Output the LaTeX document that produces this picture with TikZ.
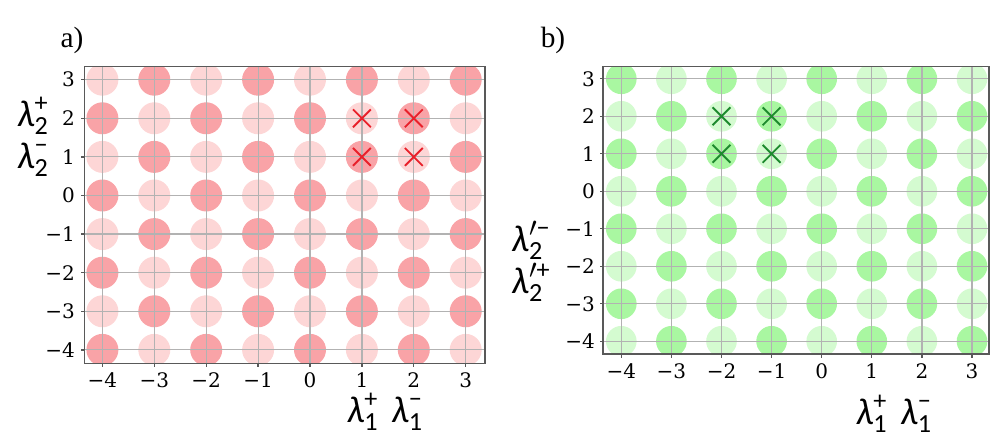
\documentclass[tikz,border=0pt]{standalone}
\usepackage{fontspec}
\usepackage{amsmath}
\setmainfont{Liberation Serif}
\newfontfamily\tickfont{DejaVu Serif}
\newfontfamily\lamfont{Carlito}
\usetikzlibrary{shapes.misc}

\definecolor{redhi}{HTML}{F9A3A7}
\definecolor{redlo}{HTML}{FDD6D6}
\definecolor{greenhi}{HTML}{A9F7A1}
\definecolor{greenlo}{HTML}{D4FBD0}
\definecolor{crossred}{HTML}{E8202A}
\definecolor{crossgreen}{HTML}{1E8A2E}

\newcommand{\tickval}[1]{\ifnum#1<0 −\number\numexpr-#1\relax\else#1\fi}
\newcommand{\lamsym}[3]{$\text{\lamfont\itshape λ}#1^{\text{\lamfont #2}}_{\text{\lamfont #3}}$}

\begin{document}
\begin{tikzpicture}[x=0.75pt,y=0.75pt,
  frame/.style={draw=black!65,line width=1pt},
  gridline/.style={draw=black!30,line width=0.9pt},
  tick/.style={font=\tickfont\fontsize{15}{18}\selectfont,inner sep=0pt},
  axlabel/.style={font=\fontsize{28}{31.5}\selectfont,inner sep=0pt,align=center},
  panel/.style={font=\fontsize{22}{24}\selectfont,inner sep=0pt},
  dotA0/.style={fill=redhi}, dotA1/.style={fill=redlo},
  dotB0/.style={fill=greenlo}, dotB1/.style={fill=greenhi},
  crossA/.style={cross out,draw=crossred,line width=1.4pt,minimum size=12pt,inner sep=0pt},
  crossB/.style={cross out,draw=crossgreen,line width=1.4pt,minimum size=12pt,inner sep=0pt}]
\useasboundingbox (0,0) rectangle (997,442);

% a) red lattice
\begin{scope}[shift={(310,246.5)},x=38.925pt,y=28.95pt]
\begin{scope}
\clip (-4.35,-4.36) rectangle (3.37,3.34);
\foreach \i in {-4,...,3}
  \foreach \j in {-4,...,3} {
    \pgfmathtruncatemacro\p{mod(\i+\j+10,2)}
    \fill[dotA\p] (\i,\j) circle[radius=12pt];
  }
\foreach \k in {-4,...,3} {
  \draw[gridline] (\k,-4.36) -- (\k,3.34);
  \draw[gridline] (-4.35,\k) -- (3.37,\k);
}
\end{scope}
\draw[frame] (-4.35,-4.36) rectangle (3.37,3.34);
\foreach \k [count=\n] in {-4,...,3} {
  \draw[frame] (\k,-4.36) -- ++(0,-2.6pt);
  \node[tick,anchor=base] (xa\n) at ([yshift=-18pt]\k,-4.36) {\tickval{\k}};
  \draw[frame] (-4.35,\k) -- ++(-2.6pt,0);
  \node[tick,anchor=east] (ya\n) at ([xshift=-6.75pt]-4.35,\k) {\tickval{\k}};
}
\node[crossA] (ca1) at (1,2) {};
\node[crossA] (ca2) at (2,2) {};
\node[crossA] (ca3) at (1,1) {};
\node[crossA] (ca4) at (2,1) {};
\end{scope}

% b) green lattice
\begin{scope}[shift={(821.7,250.7)},x=37.575pt,y=28.125pt]
\begin{scope}
\clip (-4.365,-4.34) rectangle (3.34,3.32);
\foreach \i in {-4,...,3}
  \foreach \j in {-4,...,3} {
    \pgfmathtruncatemacro\p{mod(\i+\j+10,2)}
    \fill[dotB\p] (\i,\j) circle[radius=11.5pt];
  }
\foreach \k in {-4,...,3} {
  \draw[gridline] (\k,-4.34) -- (\k,3.32);
  \draw[gridline] (-4.365,\k) -- (3.34,\k);
}
\end{scope}
\draw[frame] (-4.365,-4.34) rectangle (3.34,3.32);
\foreach \k [count=\n] in {-4,...,3} {
  \draw[frame] (\k,-4.34) -- ++(0,-2.6pt);
  \node[tick,anchor=base] (xb\n) at ([yshift=-18pt]\k,-4.34) {\tickval{\k}};
  \draw[frame] (-4.365,\k) -- ++(-2.6pt,0);
  \node[tick,anchor=east] (yb\n) at ([xshift=-6pt]-4.365,\k) {\tickval{\k}};
}
\node[crossB] (cb1) at (-2,2) {};
\node[crossB] (cb2) at (-1,2) {};
\node[crossB] (cb3) at (-2,1) {};
\node[crossB] (cb4) at (-1,1) {};
\end{scope}

% labels
\node[panel] (pa) at (72,402) {a)};
\node[panel] (pb) at (553,402) {b)};
\node[axlabel] (la2) at (33,305) {\lamsym{}{+}{2}\\\lamsym{}{−}{2}};
\node[axlabel] (la1) at (385,30) {\lamsym{}{+}{1}\hspace{10pt}\lamsym{}{−}{1}};
\node[axlabel] (lb2) at (531,180.5) {\lamsym{'}{−}{2}\\\lamsym{'}{+}{2}};
\node[axlabel] (lb1) at (894,28) {\lamsym{}{+}{1}\hspace{10pt}\lamsym{}{−}{1}};
\end{tikzpicture}
\end{document}
